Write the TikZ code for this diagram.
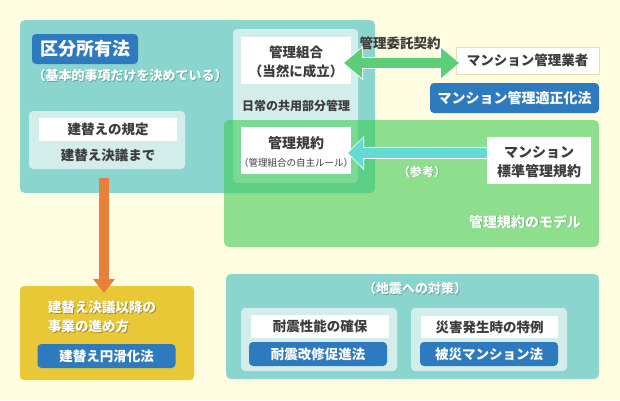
\documentclass[tikz,border=0pt]{standalone}
\usepackage{fontspec}
\setmainfont{Noto Sans CJK JP}
\usetikzlibrary{arrows.meta,calc}
\definecolor{bg}{HTML}{FFFDE0}
\definecolor{tealbox}{HTML}{8AD5CD}
\definecolor{pale}{HTML}{D3EDEB}
\definecolor{greenbox}{HTML}{3BCB54}
\definecolor{bluelab}{HTML}{2E7ABF}
\definecolor{orangearr}{HTML}{E87F3A}
\definecolor{yellowbox}{HTML}{E8C837}
\definecolor{greenarr}{HTML}{5DCE78}
\definecolor{cyanarr}{HTML}{66D9D3}
\definecolor{dark}{HTML}{3C3C3C}
\definecolor{shteal}{HTML}{5FA39C}
\definecolor{shgreen}{HTML}{62AE66}
\definecolor{shyellow}{HTML}{A88F22}
\definecolor{gborder}{HTML}{E8E2B0}
\newcommand\shd[2]{\makebox[0pt][l]{\kern0.8pt\raisebox{-0.8pt}{\textcolor{#1}{#2}}}#2}
\begin{document}
\begin{tikzpicture}[x=1pt,y=-1pt,
  box/.style={anchor=north west, inner sep=0pt, outer sep=0pt, rounded corners=#1},
  box/.default=0pt,
  sz/.style 2 args={minimum width=#1pt, minimum height=#2pt},
  lbl/.style={font=\bfseries\fontsize{13.5}{16}\selectfont, text=dark, inner sep=0pt},
  wlbl/.style={lbl, text=white},
  blab/.style={box=4pt, fill=bluelab},
  wbox/.style={box, fill=white},
  panel/.style={box=4pt, fill=pale}
]
\useasboundingbox (0,0) rectangle (620,400);
\fill[bg] (0,0) rectangle (620,400);

% big teal box
\node[box=5pt, fill=tealbox, sz={355}{173}] (kubun) at (20,20) {};
\node[panel, sz={125}{154}] (kanripanel) at (233,29) {};
\node[panel, sz={156}{58}] (leftpanel) at (29,111) {};
% green box
\node[box=5pt, fill=greenbox, fill opacity=0.58, sz={375}{127}] (model) at (224,120) {};
% white boxes
\node[wbox, sz={110}{47}] (kumiai) at (241,37) {};
\node[wbox, sz={110}{47}] (kiyaku) at (241,127) {};
\node[wbox, sz={138}{23}] (kitei) at (39,118) {};
\node[blab, sz={106}{30}] (kubunlab) at (32,34) {};
\node[wbox, draw=gborder, line width=1pt, sz={143}{27}] (gyosha) at (456,47) {};
\node[blab, sz={169}{30}] (tekisei) at (430,83) {};
\node[wbox, sz={104}{47}] (hyojun) at (487,137) {};

% yellow box
\node[box=4pt, fill=yellowbox, sz={174}{94}] (ybox) at (20,286) {};
\node[blab, sz={138}{24}] (enkatsu) at (37.5,344) {};

% bottom teal box
\node[box=5pt, fill=tealbox, sz={373}{105}] (jishin) at (226,274) {};
\node[panel, sz={156}{63}] (subl) at (241,308) {};
\node[panel, sz={156}{63}] (subr) at (411,308) {};
\node[wbox, sz={138}{23}] (taishinw) at (251,315) {};
\node[wbox, sz={137}{22}] (saigaiw) at (421,316) {};
\node[blab, sz={138}{24}] (taishinb) at (249,342) {};
\node[blab, sz={138}{24}] (hisaib) at (420,342) {};

% texts
\node[wlbl, font=\bfseries\fontsize{18}{20}\selectfont] (t1) at (kubunlab.center) {区分所有法};
\node[wlbl, font=\bfseries\fontsize{13}{15}\selectfont] (t2) at (130,76) {\shd{shteal}{（基本的事項だけを決めている）}};
\node[lbl] (t3) at (296,52) {管理組合};
\node[lbl] (t4) at (296,71) {（当然に成立）};
\node[lbl, font=\bfseries\fontsize{12}{14}\selectfont] (t5) at (296,106) {日常の共用部分管理};
\node[lbl, font=\bfseries\fontsize{14}{16}\selectfont] (t6) at (296,143) {管理規約};
\node[lbl, font=\fontsize{9.5}{11}\selectfont] (t7) at (296,163) {（管理組合の自主ルール）};
\node[lbl] (t8) at (kitei.center) {建替えの規定};
\node[lbl] (t9) at (108,155) {建替え決議まで};
\node[lbl] (t10) at (400,43) {管理委託契約};
\node[lbl] (t11) at (gyosha.center) {マンション管理業者};
\node[wlbl, font=\bfseries\fontsize{14}{16}\selectfont] (t12) at (tekisei.center) {マンション管理適正化法};
\node[lbl, align=center, font=\bfseries\fontsize{14}{19}\selectfont] (t13) at (539,162) {マンション\\標準管理規約};
\node[wlbl, font=\bfseries\fontsize{12}{14}\selectfont] (t14) at (422,172) {\shd{shgreen}{（参考）}};
\node[wlbl, font=\bfseries\fontsize{14}{16}\selectfont] (t15) at (525,222) {\shd{shgreen}{管理規約のモデル}};
\node[wlbl, align=left, anchor=west, font=\bfseries\fontsize{13.5}{19}\selectfont] (t16) at (48,317.5) {\shd{shyellow}{建替え決議以降の}\\\shd{shyellow}{事業の進め方}};
\node[wlbl] (t17) at (enkatsu.center) {建替え円滑化法};
\node[wlbl, font=\bfseries\fontsize{13}{15}\selectfont] (t18) at (415,289) {\shd{shteal}{（地震への対策）}};
\node[lbl] (t19) at (taishinw.center) {耐震性能の確保};
\node[lbl] (t20) at (saigaiw.center) {災害発生時の特例};
\node[wlbl] (t21) at (taishinb.center) {耐震改修促進法};
\node[wlbl] (t22) at (hisaib.center) {被災マンション法};

% connectors
\coordinate (ostart) at (104,178);
\draw[orangearr, line width=10pt, -{Triangle[width=21pt,length=14pt]}]
  (ostart) -- ([yshift=-7pt]ostart |- ybox.north);

\draw[white, line width=12pt, {Triangle[width=33pt,length=20pt]}-{Triangle[width=33pt,length=20pt]}]
  ($(kumiai.east)+(-8,2.5)$) -- ($(gyosha.west)+(4,2.5)$);
\draw[greenarr, line width=10pt, {Triangle[width=29pt,length=18pt]}-{Triangle[width=29pt,length=18pt]}]
  ($(kumiai.east)+(-7,2.5)$) -- ($(gyosha.west)+(3,2.5)$);

\draw[white, line width=12pt, -{Triangle[width=33pt,length=17pt]}]
  ($(kiyaku.east -| hyojun.west)+(0,2.5)$) -- ($(kiyaku.east)+(-4,2.5)$);
\draw[cyanarr, line width=10pt, -{Triangle[width=29pt,length=15pt]}]
  ($(kiyaku.east -| hyojun.west)+(0,2.5)$) -- ($(kiyaku.east)+(-3,2.5)$);
\end{tikzpicture}
\end{document}
